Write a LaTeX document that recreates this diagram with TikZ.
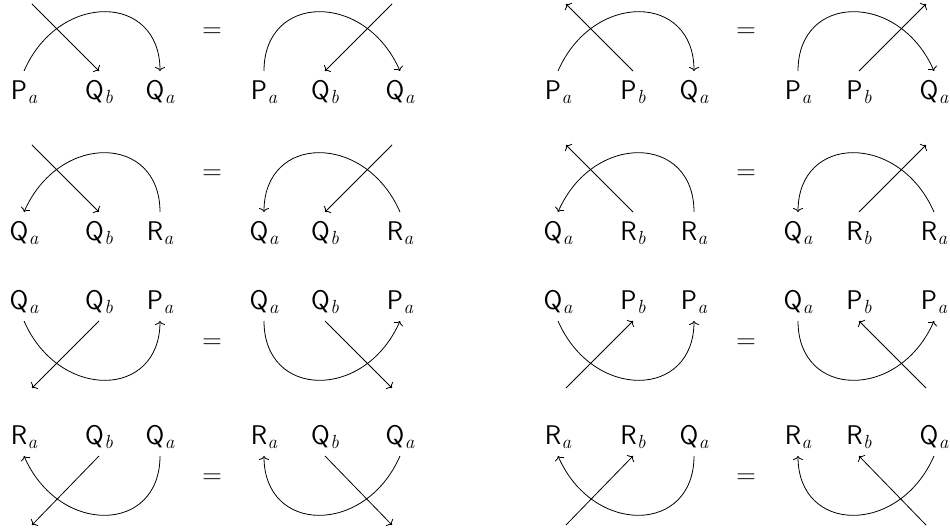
\documentclass[tikz,border=0pt]{standalone}
\usepackage{fontspec}
\usetikzlibrary{arrows.meta}
\newcommand{\mylab}[2]{{\sffamily #1}\kern0.5pt\raisebox{-4pt}{\fontsize{19}{20}\selectfont\itshape #2}}
\tikzset{
  lab/.style={font=\fontsize{27}{32}\selectfont, inner sep=0pt, text height=19pt, text depth=5pt, anchor=base},
  labd/.style={lab, outer ysep=10pt},
  labu/.style={lab, outer ysep=7pt},
  eq/.style={font=\fontsize{27}{32}\selectfont, inner sep=0pt},
  ln/.style={line width=0.8pt, >={To[length=4pt,width=10pt]}},
}
\begin{document}
\begin{tikzpicture}[x=1pt,y=-1pt]
\useasboundingbox (0,0) rectangle (950,529);
% ---------- Row 1 ----------
\node[labd] (p11l) at (24,100) {\mylab{P}{a}};
\node[labd] (p11m) at (99,100) {\mylab{Q}{b}};
\node[labd] (p11r) at (160,100) {\mylab{Q}{a}};
\coordinate (p11e) at (32,4);
\draw[ln,->] (p11e) -- (p11m.north);
\draw[ln,->] (p11l.north) .. controls +(35,-80) and +(0,-78) .. (p11r.north);
\node[eq] (e1l) at (212,33) {=};
\node[labd] (p12l) at (264,100) {\mylab{P}{a}};
\node[labd] (p12m) at (325,100) {\mylab{Q}{b}};
\node[labd] (p12r) at (400,100) {\mylab{Q}{a}};
\coordinate (p12e) at (392,4);
\draw[ln,->] (p12e) -- (p12m.north);
\draw[ln,->] (p12l.north) .. controls +(0,-78) and +(-35,-80) .. (p12r.north);
\node[labd] (p13l) at (558,100) {\mylab{P}{a}};
\node[labd] (p13m) at (633,100) {\mylab{P}{b}};
\node[labd] (p13r) at (694,100) {\mylab{Q}{a}};
\coordinate (p13e) at (566,4);
\draw[ln,->] (p13m.north) -- (p13e);
\draw[ln,->] (p13l.north) .. controls +(35,-80) and +(0,-78) .. (p13r.north);
\node[eq] (e1r) at (746,33) {=};
\node[labd] (p14l) at (798,100) {\mylab{P}{a}};
\node[labd] (p14m) at (859,100) {\mylab{P}{b}};
\node[labd] (p14r) at (934,100) {\mylab{Q}{a}};
\coordinate (p14e) at (926,4);
\draw[ln,->] (p14m.north) -- (p14e);
\draw[ln,->] (p14l.north) .. controls +(0,-78) and +(-35,-80) .. (p14r.north);
% ---------- Row 2 ----------
\node[labd] (p21l) at (24,241) {\mylab{Q}{a}};
\node[labd] (p21m) at (99,241) {\mylab{Q}{b}};
\node[labd] (p21r) at (160,241) {\mylab{R}{a}};
\coordinate (p21e) at (32,145);
\draw[ln,->] (p21e) -- (p21m.north);
\draw[ln,<-] (p21l.north) .. controls +(35,-80) and +(0,-78) .. (p21r.north);
\node[eq] (e2l) at (212,175) {=};
\node[labd] (p22l) at (264,241) {\mylab{Q}{a}};
\node[labd] (p22m) at (325,241) {\mylab{Q}{b}};
\node[labd] (p22r) at (400,241) {\mylab{R}{a}};
\coordinate (p22e) at (392,145);
\draw[ln,->] (p22e) -- (p22m.north);
\draw[ln,<-] (p22l.north) .. controls +(0,-78) and +(-35,-80) .. (p22r.north);
\node[labd] (p23l) at (558,241) {\mylab{Q}{a}};
\node[labd] (p23m) at (633,241) {\mylab{R}{b}};
\node[labd] (p23r) at (694,241) {\mylab{R}{a}};
\coordinate (p23e) at (566,145);
\draw[ln,->] (p23m.north) -- (p23e);
\draw[ln,<-] (p23l.north) .. controls +(35,-80) and +(0,-78) .. (p23r.north);
\node[eq] (e2r) at (746,175) {=};
\node[labd] (p24l) at (798,241) {\mylab{Q}{a}};
\node[labd] (p24m) at (859,241) {\mylab{R}{b}};
\node[labd] (p24r) at (934,241) {\mylab{R}{a}};
\coordinate (p24e) at (926,145);
\draw[ln,->] (p24m.north) -- (p24e);
\draw[ln,<-] (p24l.north) .. controls +(0,-78) and +(-35,-80) .. (p24r.north);
% ---------- Row 3 ----------
\node[labu] (p31l) at (24,309) {\mylab{Q}{a}};
\node[labu] (p31m) at (99,309) {\mylab{Q}{b}};
\node[labu] (p31r) at (160,309) {\mylab{P}{a}};
\coordinate (p31e) at (32,388);
\draw[ln,->] (p31m.south) -- (p31e);
\draw[ln,->] (p31l.south) .. controls +(35,80) and +(0,78) .. (p31r.south);
\node[eq] (e3l) at (212,344) {=};
\node[labu] (p32l) at (264,309) {\mylab{Q}{a}};
\node[labu] (p32m) at (325,309) {\mylab{Q}{b}};
\node[labu] (p32r) at (400,309) {\mylab{P}{a}};
\coordinate (p32e) at (392,388);
\draw[ln,->] (p32m.south) -- (p32e);
\draw[ln,->] (p32l.south) .. controls +(0,78) and +(-35,80) .. (p32r.south);
\node[labu] (p33l) at (558,309) {\mylab{Q}{a}};
\node[labu] (p33m) at (633,309) {\mylab{P}{b}};
\node[labu] (p33r) at (694,309) {\mylab{P}{a}};
\coordinate (p33e) at (566,388);
\draw[ln,->] (p33e) -- (p33m.south);
\draw[ln,->] (p33l.south) .. controls +(35,80) and +(0,78) .. (p33r.south);
\node[eq] (e3r) at (746,344) {=};
\node[labu] (p34l) at (798,309) {\mylab{Q}{a}};
\node[labu] (p34m) at (859,309) {\mylab{P}{b}};
\node[labu] (p34r) at (934,309) {\mylab{P}{a}};
\coordinate (p34e) at (926,388);
\draw[ln,->] (p34e) -- (p34m.south);
\draw[ln,->] (p34l.south) .. controls +(0,78) and +(-35,80) .. (p34r.south);
% ---------- Row 4 ----------
\node[labu] (p41l) at (24,444) {\mylab{R}{a}};
\node[labu] (p41m) at (99,444) {\mylab{Q}{b}};
\node[labu] (p41r) at (160,444) {\mylab{Q}{a}};
\coordinate (p41e) at (32,525);
\draw[ln,->] (p41m.south) -- (p41e);
\draw[ln,<-] (p41l.south) .. controls +(35,80) and +(0,78) .. (p41r.south);
\node[eq] (e4l) at (212,479) {=};
\node[labu] (p42l) at (264,444) {\mylab{R}{a}};
\node[labu] (p42m) at (325,444) {\mylab{Q}{b}};
\node[labu] (p42r) at (400,444) {\mylab{Q}{a}};
\coordinate (p42e) at (392,525);
\draw[ln,->] (p42m.south) -- (p42e);
\draw[ln,<-] (p42l.south) .. controls +(0,78) and +(-35,80) .. (p42r.south);
\node[labu] (p43l) at (558,444) {\mylab{R}{a}};
\node[labu] (p43m) at (633,444) {\mylab{R}{b}};
\node[labu] (p43r) at (694,444) {\mylab{Q}{a}};
\coordinate (p43e) at (566,525);
\draw[ln,->] (p43e) -- (p43m.south);
\draw[ln,<-] (p43l.south) .. controls +(35,80) and +(0,78) .. (p43r.south);
\node[eq] (e4r) at (746,479) {=};
\node[labu] (p44l) at (798,444) {\mylab{R}{a}};
\node[labu] (p44m) at (859,444) {\mylab{R}{b}};
\node[labu] (p44r) at (934,444) {\mylab{Q}{a}};
\coordinate (p44e) at (926,525);
\draw[ln,->] (p44e) -- (p44m.south);
\draw[ln,<-] (p44l.south) .. controls +(0,78) and +(-35,80) .. (p44r.south);
\end{tikzpicture}
\end{document}
